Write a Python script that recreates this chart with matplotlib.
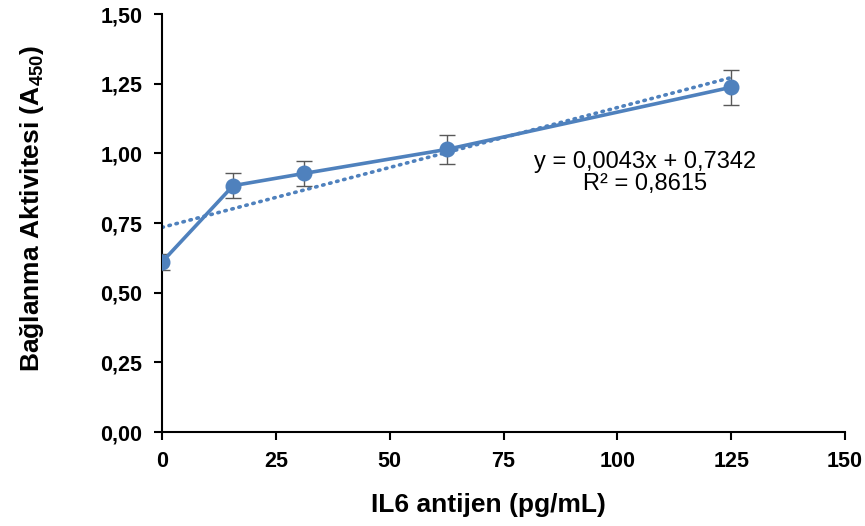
import matplotlib
matplotlib.use("Agg")
import matplotlib.pyplot as plt
import numpy as np
from matplotlib.ticker import FuncFormatter

plt.rcParams['font.family'] = ['Liberation Sans', 'DejaVu Sans']
plt.rcParams['mathtext.fontset'] = 'custom'
plt.rcParams['mathtext.rm'] = 'Liberation Sans'
plt.rcParams['mathtext.bf'] = 'Liberation Sans:bold'

# IL6 antigen concentration (pg/mL) and binding activity (A450)
conc = [0, 15.625, 31.25, 62.5, 125]
activity = [0.610, 0.884, 0.928, 1.014, 1.237]
activity_err = [0.028, 0.045, 0.045, 0.051, 0.062]

# Linear trendline coefficients
slope = 0.0043
intercept = 0.7342
r_squared = 0.8615

x_ticks = [0, 25, 50, 75, 100, 125, 150]
y_ticks = [0.0, 0.25, 0.5, 0.75, 1.0, 1.25, 1.5]

blue = '#4F81BD'
W, H = 865, 526

fig = plt.figure(figsize=(W / 100, H / 100), dpi=100)
ax = fig.add_axes([162 / W, 1 - 432 / H, (845 - 162) / W, (432 - 14) / H])

ax.errorbar(conc, activity, yerr=activity_err, color=blue, lw=2.6,
            marker='o', markersize=10.5, ecolor='#595959', elinewidth=1.0,
            capsize=6, capthick=1.0, zorder=3)

xt = np.array([conc[0], conc[-1]])
ax.plot(xt, slope * xt + intercept, color=blue, lw=2.6,
        linestyle=(0, (0.4, 1.6)), dash_capstyle='round', zorder=2)

# Trendline equation and R² (comma decimal separator)
ax.text(106, 0.969, f"y = {slope:.4f}x + {intercept:.4f}".replace('.', ','),
        ha='center', va='center', fontsize=17)
ax.text(106, 0.890, f"R² = {r_squared:.4f}".replace('.', ','),
        ha='center', va='center', fontsize=17)

ax.set_xlim(0, 150)
ax.set_ylim(0, 1.5)
ax.set_xticks(x_ticks)
ax.set_yticks(y_ticks)
ax.yaxis.set_major_formatter(FuncFormatter(lambda v, p: f"{v:.2f}".replace('.', ',')))

for s in ['top', 'right']:
    ax.spines[s].set_visible(False)
for s in ['left', 'bottom']:
    ax.spines[s].set_linewidth(1.5)
    ax.spines[s].set_color('black')

ax.tick_params(direction='out', length=6, width=1.5, labelsize=15.5, pad=8)
for lab in ax.get_xticklabels() + ax.get_yticklabels():
    lab.set_fontweight('bold')

fig.text(488 / W, 1 - 512 / H, "IL6 antijen (pg/mL)", fontsize=19,
         fontweight='bold', ha='center', va='baseline')
fig.text(32 / W, 1 - 208 / H, r"Bağlanma Aktivitesi (A$_{\mathbf{450}}$)",
         fontsize=19, fontweight='bold', rotation=90, ha='center', va='center')

fig.savefig("out.png", dpi=100)
